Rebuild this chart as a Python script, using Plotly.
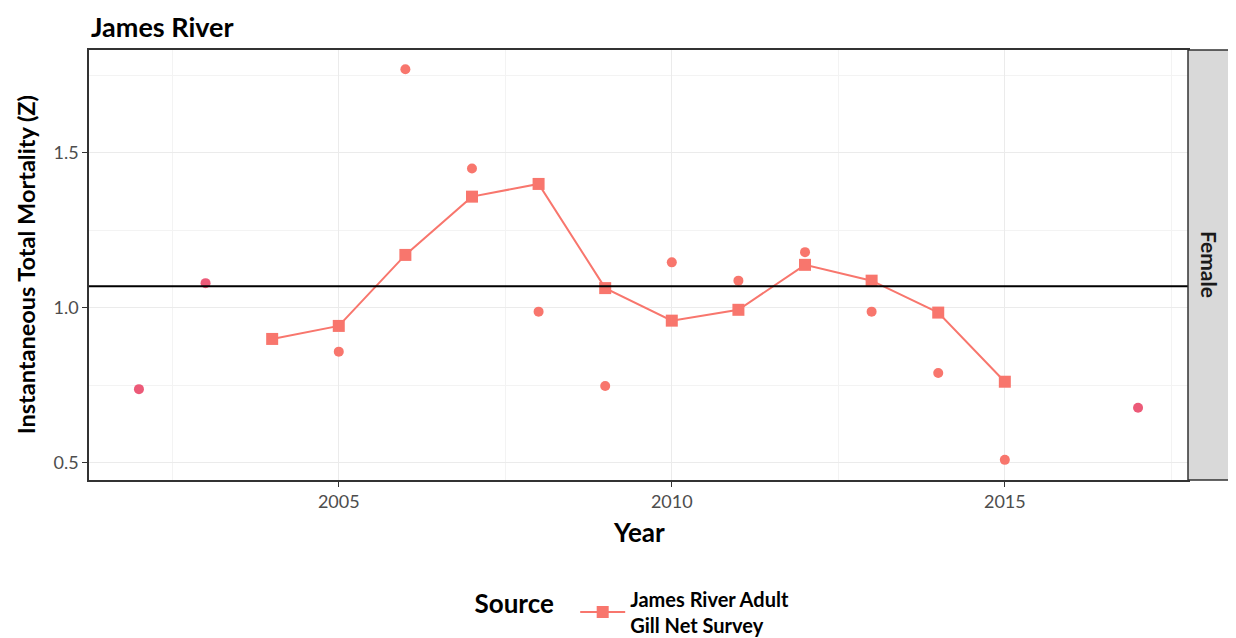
import plotly.graph_objects as go

# Survey line (squares)
line_years = [2004, 2005, 2006, 2007, 2008, 2009, 2010, 2011, 2012, 2013, 2014, 2015]
line_z = [0.90, 0.942, 1.171, 1.359, 1.40, 1.064, 0.959, 0.994, 1.139, 1.088, 0.985, 0.762]

# Individual estimates (dots)
dot_years_a = [2005, 2006, 2007, 2008, 2009, 2010, 2011, 2012, 2013, 2014, 2015]
dot_z_a = [0.859, 1.77, 1.45, 0.988, 0.748, 1.147, 1.088, 1.18, 0.988, 0.79, 0.51]
dot_years_b = [2002, 2003, 2017]
dot_z_b = [0.738, 1.08, 0.678]

reference_z = 1.07
x_ticks = [2005, 2010, 2015]
y_ticks = [0.5, 1.0, 1.5]

FONT = "Lato"
RED = "#F8766D"
PINK = "#EC5A78"

W, H = 1228, 630
L, T, R, B = 81, 42, 48, 158

fig = go.Figure()
fig.add_trace(go.Scatter(x=dot_years_a, y=dot_z_a, mode="markers",
                         marker=dict(color=RED, size=10, symbol="circle"),
                         showlegend=False, hoverinfo="x+y"))
fig.add_trace(go.Scatter(x=dot_years_b, y=dot_z_b, mode="markers",
                         marker=dict(color=PINK, size=10, symbol="circle"),
                         showlegend=False, hoverinfo="x+y"))
fig.add_trace(go.Scatter(x=line_years, y=line_z, mode="lines+markers",
                         line=dict(color=RED, width=2),
                         marker=dict(color=RED, size=12, symbol="square"),
                         name="<b>James River Adult<br>Gill Net Survey</b>"))

fig.add_shape(type="line", xref="paper", x0=0, x1=1, yref="y",
              y0=reference_z, y1=reference_z, line=dict(color="black", width=2))

# facet strip
fig.add_shape(type="rect", xref="paper", yref="paper", x0=1.0, x1=1.04, y0=0, y1=1,
              fillcolor="#D9D9D9", line=dict(color="#333333", width=1.5), layer="above")
fig.add_annotation(text="<b>Female</b>", xref="paper", yref="paper", x=1.02, y=0.5,
                   xanchor="center", yanchor="middle",
                   textangle=90, showarrow=False, font=dict(family=FONT, size=21, color="#1A1A1A"))

# title (top of its box at the figure's top edge)
fig.add_annotation(text="<b>James River</b>", xref="paper", yref="paper",
                   x=0, y=1 + T / (H - T - B), xanchor="left", yanchor="top",
                   showarrow=False, font=dict(family=FONT, size=27, color="black"))

# axis titles
fig.add_annotation(text="<b>Instantaneous Total Mortality (Z)</b>", xref="paper", yref="paper",
                   x=-0.057, y=0.5, xanchor="center", yanchor="middle", textangle=-90,
                   showarrow=False, font=dict(family=FONT, size=23.5, color="black"))
fig.add_annotation(text="<b>Year</b>", xref="paper", yref="paper",
                   x=0.5, y=-0.121, xanchor="center", yanchor="middle",
                   showarrow=False, font=dict(family=FONT, size=26, color="black"))

fig.update_layout(
    width=W, height=H,
    paper_bgcolor="white", plot_bgcolor="white",
    margin=dict(l=L, r=R, t=T, b=B, autoexpand=False),
    font=dict(family=FONT),
    legend=dict(orientation="h", x=0.349, xanchor="left", y=-0.307, yanchor="middle",
                title=dict(text="<b>Source</b>  ", font=dict(family=FONT, size=26, color="black"), side="left"),
                font=dict(family=FONT, size=20, color="black"),
                itemwidth=45),
)

fig.update_xaxes(range=[2001.25, 2017.75], tickvals=x_ticks, ticktext=[str(v) for v in x_ticks],
                 showgrid=True, gridcolor="#EBEBEB", gridwidth=1.2,
                 minor=dict(dtick=2.5, tick0=2002.5, showgrid=True, gridcolor="#F3F3F3", gridwidth=0.8),
                 showline=True, mirror=True, linecolor="#333333", linewidth=1.5,
                 ticks="outside", ticklen=5, tickcolor="#333333",
                 tickfont=dict(family=FONT, size=18, color="#4D4D4D"),
                 zeroline=False, automargin=False)
fig.update_yaxes(range=[0.445, 1.832], tickvals=y_ticks, ticktext=["0.5", "1.0", "1.5"],
                 showgrid=True, gridcolor="#EBEBEB", gridwidth=1.2,
                 minor=dict(dtick=0.25, tick0=0.25, showgrid=True, gridcolor="#F3F3F3", gridwidth=0.8),
                 showline=True, mirror=True, linecolor="#333333", linewidth=1.5,
                 ticks="outside", ticklen=5, tickcolor="#333333",
                 tickfont=dict(family=FONT, size=18, color="#4D4D4D"),
                 zeroline=False, automargin=False)

fig.write_html("out.html")
